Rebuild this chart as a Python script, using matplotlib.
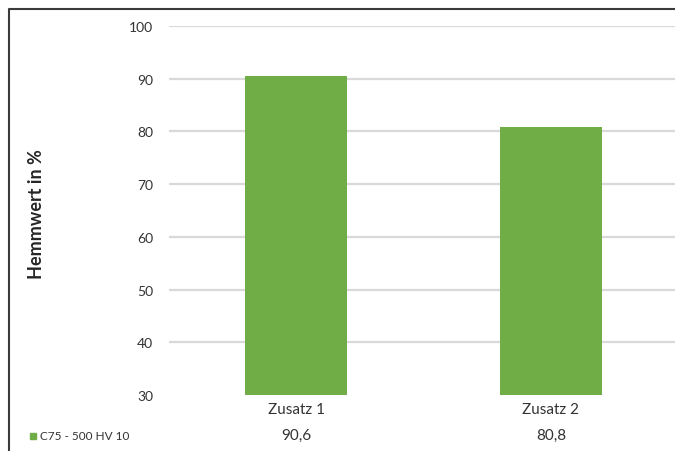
import matplotlib
matplotlib.use('Agg')
import matplotlib.pyplot as plt
from matplotlib.patches import Rectangle

plt.rcParams['font.family'] = ['Lato', 'DejaVu Sans']

categories = ['Zusatz 1', 'Zusatz 2']
values = [90.6, 80.8]
series_name = 'C75 - 500 HV 10'
yticks = [30, 40, 50, 60, 70, 80, 90, 100]

green = '#70ad47'
grid = '#d9d9d9'
txt = '#333333'

fig = plt.figure(figsize=(6.75, 4.52), dpi=100)
ax = fig.add_axes([168.5 / 675, 56 / 452, 510 / 675, 369 / 452])

x = range(len(categories))
ax.bar(x, [v - 30 for v in values], bottom=30, width=0.4, color=green, zorder=3)

ax.set_xlim(-0.5, 1.5)
ax.set_ylim(30, 100)
ax.set_yticks(yticks)
ax.set_yticklabels([str(t) for t in yticks], fontsize=10, color=txt)
ax.tick_params(axis='y', length=0, pad=11)
ax.set_xticks([])
for t in yticks[1:]:
    ax.axhline(t, color=grid, lw=1.6, zorder=1)
for s in ax.spines.values():
    s.set_visible(False)

fig.text(37 / 675, 1 - 214 / 452, 'Hemmwert in %', rotation=90, ha='center',
         va='center', fontsize=13, fontweight='bold', color='#262626')

# data table below the axis
for i, (c, v) in enumerate(zip(categories, values)):
    ax.text(i, -0.038, c, transform=ax.get_xaxis_transform(), ha='center',
            va='center', fontsize=11, color=txt)
    ax.text(i, -0.108, f'{v:.1f}'.replace('.', ','), transform=ax.get_xaxis_transform(),
            ha='center', va='center', fontsize=11, color=txt)
fig.patches.append(Rectangle((30 / 675, 1 - 440 / 452), 6 / 675, 6 / 452,
                             transform=fig.transFigure, color=green))
fig.text(40 / 675, 1 - 437 / 452, series_name, ha='left', va='center',
         fontsize=8.5, color=txt)

# outer frame: left and top edges only
fig.add_artist(plt.Line2D([9 / 675, 9 / 675, 1.0], [0, 1 - 10 / 452, 1 - 10 / 452],
                          transform=fig.transFigure, color='#3a3a3a', lw=1.5))

fig.savefig('out.png', dpi=100)
